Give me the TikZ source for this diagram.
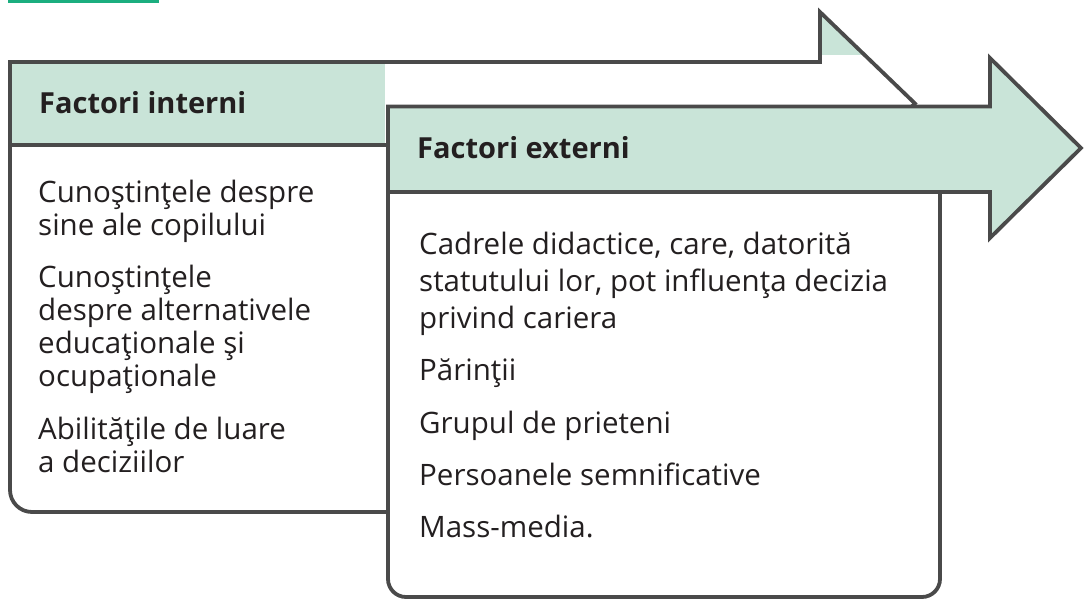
\documentclass[tikz,border=0pt]{standalone}
\usepackage{fontspec}
\setmainfont{Open Sans}
\definecolor{mint}{HTML}{C9E4D8}
\definecolor{edge}{HTML}{4A4A4A}
\definecolor{topbar}{HTML}{1BAE7F}
\definecolor{ink}{HTML}{231F20}
\begin{document}
\begin{tikzpicture}[x=1pt,y=-1pt,
  outline/.style={draw=edge, line width=3.8pt, line join=miter},
  headtxt/.style={anchor=base west, inner sep=0pt, font=\bfseries\fontsize{29}{34}\selectfont, text=ink},
  itemin/.style={anchor=base west, inner sep=0pt, font=\fontsize{29.5}{33}\selectfont, text=ink},
  itemex/.style={anchor=base west, inner sep=0pt, font=\fontsize{29.5}{37}\selectfont, text=ink}]
\useasboundingbox (0,0) rectangle (1085,600);
\fill[topbar] (8,0) rectangle (159,2.5);
% internal arrow
\path[fill=mint] (10,62) -- (820,62) -- (820,12) -- (915,103.5) -- (820,195) -- (820,145) -- (10,145) -- cycle;
\begin{scope}
\clip (10,62) -- (820,62) -- (820,12) -- (915,103.5) -- (820,195) -- (820,145) -- (10,145) -- cycle;
\fill[white] (385,55) rectangle (935,150);
\end{scope}
\draw[outline] (10,62) -- (820,62) -- (820,12) -- (915,103.5) -- (820,195) -- (820,145) -- (10,145) -- cycle;
% internal body
\fill[white] (11.9,146.9) rectangle (388,510);
\draw[outline, rounded corners=22pt] (10,145) -- (10,512) -- (388,512);
% external arrow
\draw[outline, fill=mint] (388,106.5) -- (990,106.5) -- (990,58) -- (1081,148) -- (990,238) -- (990,192) -- (388,192) -- cycle;
% external body
\fill[white] (389.9,193.9) rectangle (938.1,595);
\draw[outline, rounded corners=18pt] (388,192) -- (388,597) -- (940,597) -- (940,192);
% texts
\node[headtxt] (hin) at (39,113) {Factori interni};
\node[headtxt] (hex) at (417,158) {Factori externi};
\node[itemin] (i1) at (38,202) {\begin{tabular}[t]{@{}l@{}}Cunoştinţele despre\\sine ale copilului\end{tabular}};
\node[itemin] (i2) at (38,287) {\begin{tabular}[t]{@{}l@{}}Cunoştinţele\\despre alternativele\\educaţionale şi\\ocupaţionale\end{tabular}};
\node[itemin] (i3) at (38,439) {\begin{tabular}[t]{@{}l@{}}Abilităţile de luare\\a deciziilor\end{tabular}};
\node[itemex] (e1) at (419,254) {\begin{tabular}[t]{@{}l@{}}Cadrele didactice, care, datorită\\statutului lor, pot influenţa decizia\\privind cariera\end{tabular}};
\node[itemex] (e2) at (419,380) {Părinţii};
\node[itemex] (e3) at (419,433) {Grupul de prieteni};
\node[itemex] (e4) at (419,485) {Persoanele semnificative};
\node[itemex] (e5) at (419,537) {Mass-media.};
\end{tikzpicture}
\end{document}
